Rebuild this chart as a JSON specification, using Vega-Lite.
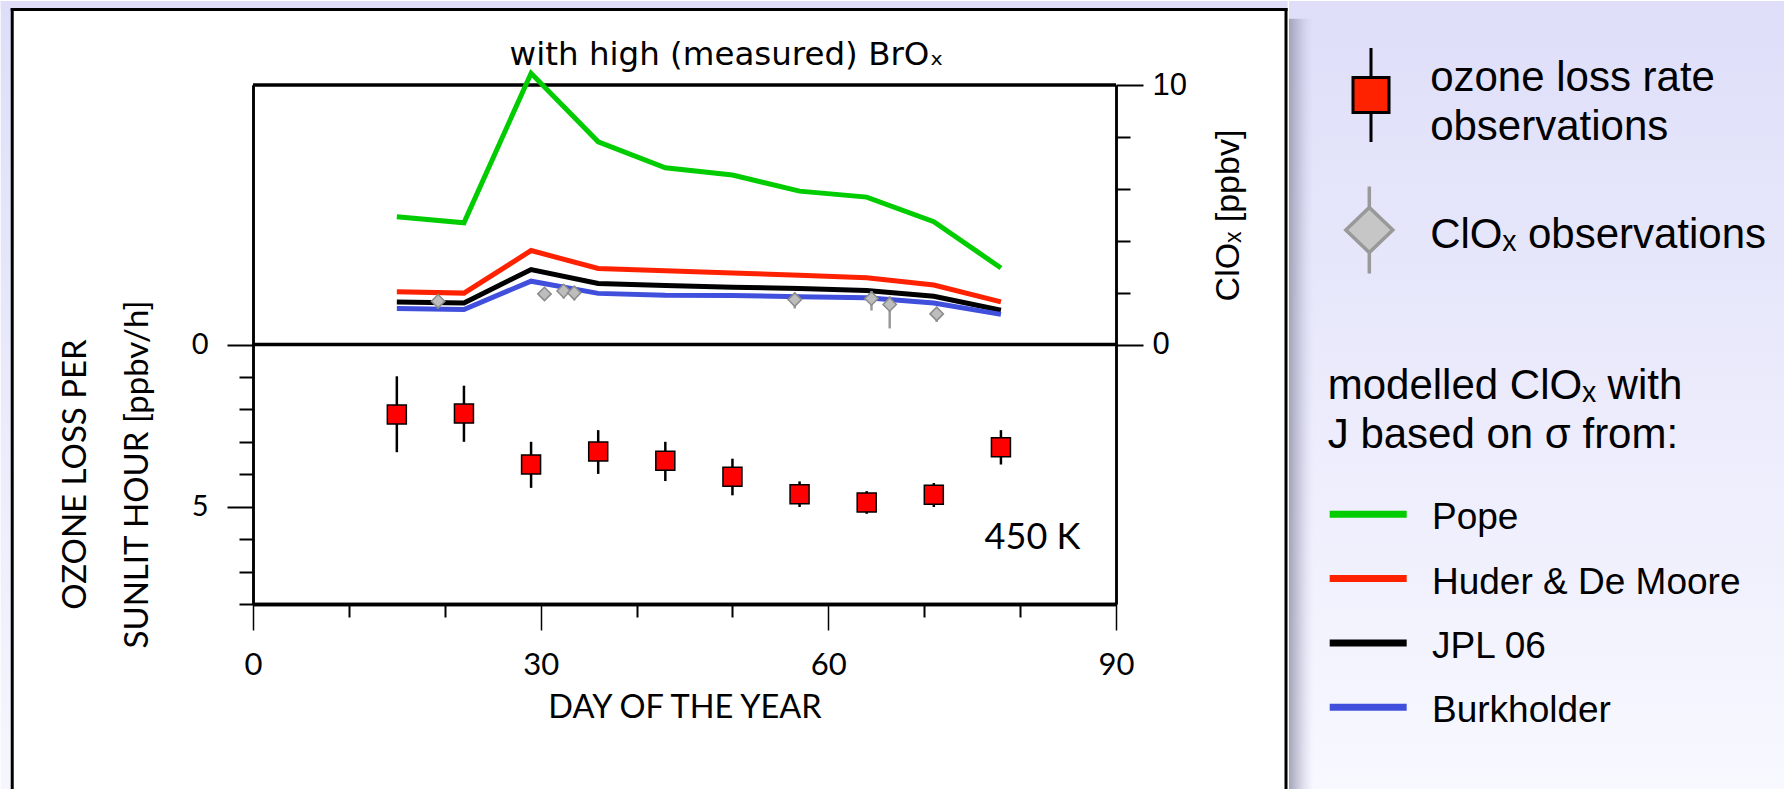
{
  "$schema": "https://vega.github.io/schema/vega-lite/v6.json",
  "background": "white",
  "padding": 0,
  "spacing": 0,
  "config": {
    "view": {"stroke": null},
    "axis": {"grid": false},
    "font": "Liberation Sans"
  },
  "datasets": {
    "models": [
      {"day": 15, "model": "Pope", "clox": 4.92},
      {"day": 22, "model": "Pope", "clox": 4.69},
      {"day": 29, "model": "Pope", "clox": 10.45},
      {"day": 36, "model": "Pope", "clox": 7.81},
      {"day": 43, "model": "Pope", "clox": 6.81},
      {"day": 50, "model": "Pope", "clox": 6.53},
      {"day": 57, "model": "Pope", "clox": 5.91},
      {"day": 64, "model": "Pope", "clox": 5.68},
      {"day": 71, "model": "Pope", "clox": 4.73},
      {"day": 78, "model": "Pope", "clox": 2.95},
      {"day": 15, "model": "Huder & De Moore", "clox": 2.03},
      {"day": 22, "model": "Huder & De Moore", "clox": 1.98},
      {"day": 29, "model": "Huder & De Moore", "clox": 3.62},
      {"day": 36, "model": "Huder & De Moore", "clox": 2.93},
      {"day": 43, "model": "Huder & De Moore", "clox": 2.84},
      {"day": 50, "model": "Huder & De Moore", "clox": 2.76},
      {"day": 57, "model": "Huder & De Moore", "clox": 2.67},
      {"day": 64, "model": "Huder & De Moore", "clox": 2.57},
      {"day": 71, "model": "Huder & De Moore", "clox": 2.29},
      {"day": 78, "model": "Huder & De Moore", "clox": 1.64},
      {"day": 15, "model": "JPL 06", "clox": 1.64},
      {"day": 22, "model": "JPL 06", "clox": 1.6},
      {"day": 29, "model": "JPL 06", "clox": 2.89},
      {"day": 36, "model": "JPL 06", "clox": 2.35},
      {"day": 43, "model": "JPL 06", "clox": 2.27},
      {"day": 50, "model": "JPL 06", "clox": 2.21},
      {"day": 57, "model": "JPL 06", "clox": 2.16},
      {"day": 64, "model": "JPL 06", "clox": 2.08},
      {"day": 71, "model": "JPL 06", "clox": 1.86},
      {"day": 78, "model": "JPL 06", "clox": 1.32},
      {"day": 15, "model": "Burkholder", "clox": 1.39},
      {"day": 22, "model": "Burkholder", "clox": 1.35},
      {"day": 29, "model": "Burkholder", "clox": 2.44},
      {"day": 36, "model": "Burkholder", "clox": 1.97},
      {"day": 43, "model": "Burkholder", "clox": 1.9},
      {"day": 50, "model": "Burkholder", "clox": 1.89},
      {"day": 57, "model": "Burkholder", "clox": 1.84},
      {"day": 64, "model": "Burkholder", "clox": 1.8},
      {"day": 71, "model": "Burkholder", "clox": 1.6},
      {"day": 78, "model": "Burkholder", "clox": 1.16}
    ],
    "clox_obs": [
      {"day": 19.3, "clox": 1.67, "lo": 1.39, "hi": 1.9},
      {"day": 30.4, "clox": 1.95, "lo": 1.8, "hi": 2.1},
      {"day": 32.4, "clox": 2.06, "lo": 1.77, "hi": 2.31},
      {"day": 33.5, "clox": 1.99, "lo": 1.7, "hi": 2.25},
      {"day": 56.5, "clox": 1.73, "lo": 1.39, "hi": 1.99},
      {"day": 64.5, "clox": 1.77, "lo": 1.31, "hi": 2.06},
      {"day": 66.4, "clox": 1.54, "lo": 0.62, "hi": 1.86},
      {"day": 71.3, "clox": 1.18, "lo": 0.87, "hi": 1.41}
    ],
    "ozone": [
      {"day": 15, "loss": 2.16, "lo": 0.98, "hi": 3.32},
      {"day": 22, "loss": 2.13, "lo": 1.27, "hi": 3.0},
      {"day": 29, "loss": 3.7, "lo": 3.0, "hi": 4.42},
      {"day": 36, "loss": 3.3, "lo": 2.64, "hi": 3.99},
      {"day": 43, "loss": 3.58, "lo": 3.0, "hi": 4.21},
      {"day": 50, "loss": 4.08, "lo": 3.52, "hi": 4.65},
      {"day": 57, "loss": 4.62, "lo": 4.22, "hi": 5.01},
      {"day": 64, "loss": 4.87, "lo": 4.52, "hi": 5.22},
      {"day": 71, "loss": 4.63, "lo": 4.27, "hi": 5.01},
      {"day": 78, "loss": 3.17, "lo": 2.64, "hi": 3.7}
    ],
    "legend": [
      {"entry": "ozone loss rate\nobservations", "kind": "obs", "order": 1},
      {"entry": "ClOₓ observations", "kind": "clox", "order": 2},
      {"entry": "modelled ClOₓ with\nJ based on σ from:", "kind": "header", "order": 3},
      {"entry": "Pope", "kind": "model", "order": 4},
      {"entry": "Huder & De Moore", "kind": "model", "order": 5},
      {"entry": "JPL 06", "kind": "model", "order": 6},
      {"entry": "Burkholder", "kind": "model", "order": 7}
    ]
  },
  "hconcat": [
    {
      "width": 863,
      "height": 519,
      "resolve": {
        "scale": {"x": "independent", "y": "independent"},
        "axis": {"x": "independent", "y": "independent"}
      },
      "layer": [
        {
          "resolve": {"axis": {"y": "independent"}},
          "layer": [
            {
              "data": {"values": [{}]},
              "mark": {"type": "rect", "fill": "#DEDEF9"},
              "encoding": {
                "x": {"datum": -26.31, "type": "quantitative", "axis": null},
                "x2": {"datum": 107.905},
                "y": {"datum": 13.237, "type": "quantitative", "axis": null},
                "y2": {"datum": 12.909}
              }
            },
            {
              "data": {"values": [{}]},
              "mark": {
                "type": "rect",
                "fill": {
                  "gradient": "linear", "x1": 0, "y1": 0, "x2": 0, "y2": 1,
                  "stops": [{"offset": 0, "color": "#DEDEF9"}, {"offset": 1, "color": "#F6F6FE"}]
                }
              },
              "encoding": {
                "x": {"datum": -26.31, "type": "quantitative", "axis": null},
                "x2": {"datum": -25.11},
                "y": {"datum": 13.237, "type": "quantitative", "axis": null},
                "y2": {"datum": -17.15}
              }
            },
            {
              "data": {"values": [{}]},
              "mark": {"type": "rule", "color": "black", "strokeWidth": 3, "strokeCap": "square"},
              "encoding": {
                "x": {"datum": -25.11, "type": "quantitative", "axis": null},
                "y": {"datum": 12.909, "type": "quantitative", "axis": null},
                "y2": {"datum": -17.11}
              }
            },
            {
              "data": {"values": [{}]},
              "mark": {"type": "rule", "color": "black", "strokeWidth": 3, "strokeCap": "square"},
              "encoding": {
                "x": {"datum": -25.11, "type": "quantitative", "axis": null},
                "x2": {"datum": 107.73},
                "y": {"datum": 12.909, "type": "quantitative", "axis": null}
              }
            },
            {
              "data": {"values": [{}]},
              "mark": {"type": "rule", "color": "black", "strokeWidth": 3, "strokeCap": "square"},
              "encoding": {
                "x": {"datum": 107.73, "type": "quantitative", "axis": null},
                "y": {"datum": 12.909, "type": "quantitative", "axis": null},
                "y2": {"datum": -17.11}
              }
            },
            {
              "data": {"values": [{}]},
              "mark": {"type": "rule", "color": "black", "strokeWidth": 3.5},
              "encoding": {"y": {"datum": 10, "type": "quantitative", "axis": null}}
            },
            {
              "data": {"values": [{}]},
              "mark": {"type": "rule", "color": "black", "strokeWidth": 3.5},
              "encoding": {"y": {"datum": 0, "type": "quantitative", "axis": null}}
            },
            {
              "data": {"name": "models"},
              "mark": {"type": "line", "strokeWidth": 5},
              "encoding": {
                "x": {
                  "field": "day", "type": "quantitative",
                  "scale": {"domain": [0, 90], "nice": false, "zero": false},
                  "axis": null
                },
                "y": {
                  "field": "clox", "type": "quantitative",
                  "scale": {"domain": [-10, 10], "nice": false, "zero": false},
                  "axis": {
                    "orient": "right",
                    "values": [0, 10],
                    "tickSize": 27, "tickWidth": 2, "tickColor": "black",
                    "domainColor": "black", "domainWidth": 2.5,
                    "labelFont": "Liberation Sans", "labelFontSize": 31, "labelColor": "black",
                    "labelPadding": 9, "labelFlush": false, "labelOverlap": false,
                    "title": "ClOₓ [ppbv]", "titleFont": "Liberation Sans", "titleFontSize": 34,
                    "titleFontWeight": "normal", "titleColor": "black",
                    "titleAngle": 270, "titleBaseline": "top", "titleAlign": "center",
                    "titleY": 130, "titlePadding": 25,
                    "zindex": 1
                  }
                },
                "color": {
                  "field": "model", "type": "nominal",
                  "scale": {
                    "domain": ["Pope", "Huder & De Moore", "JPL 06", "Burkholder"],
                    "range": ["#00CC00", "#FF2200", "#000000", "#4050DD"]
                  },
                  "legend": null
                }
              }
            },
            {
              "data": {"name": "clox_obs"},
              "mark": {"type": "rule", "color": "#999999", "strokeWidth": 2.5},
              "encoding": {
                "x": {"field": "day", "type": "quantitative", "axis": null},
                "y": {
                  "field": "lo", "type": "quantitative",
                  "axis": {
                    "orient": "right",
                    "values": [2, 4, 6, 8],
                    "labels": false,
                    "tickSize": 14, "tickWidth": 2, "tickColor": "black",
                    "domainColor": "black", "domainWidth": 2.5,
                    "title": null,
                    "zindex": 1
                  }
                },
                "y2": {"field": "hi"}
              }
            },
            {
              "data": {"name": "clox_obs"},
              "mark": {"type": "point", "shape": "diamond", "filled": true, "size": 180, "fill": "#BDBDBD", "stroke": "#8C8C8C", "strokeWidth": 1.5, "opacity": 1},
              "encoding": {
                "x": {"field": "day", "type": "quantitative", "axis": null},
                "y": {"field": "clox", "type": "quantitative", "axis": null}
              }
            },
            {
              "data": {"values": [{}]},
              "mark": {"type": "text", "font": "DejaVu Sans", "fontSize": 32.5, "align": "center", "baseline": "alphabetic", "color": "black"},
              "encoding": {
                "x": {"datum": 49.4, "type": "quantitative", "axis": null},
                "y": {"datum": 10.76, "type": "quantitative", "axis": null},
                "text": {"value": "with high (measured) BrOₓ"}
              }
            }
          ]
        },
        {
          "resolve": {"axis": {"x": "independent", "y": "independent"}},
          "layer": [
            {
              "data": {"name": "ozone"},
              "mark": {"type": "rule", "color": "black", "strokeWidth": 2.5},
              "encoding": {
                "x": {
                  "field": "day", "type": "quantitative",
                  "scale": {"domain": [0, 90], "nice": false, "zero": false},
                  "axis": {
                    "orient": "bottom",
                    "values": [0, 30, 60, 90],
                    "tickSize": 26, "tickWidth": 1.5, "tickColor": "black",
                    "domainColor": "black", "domainWidth": 3.5,
                    "labelFont": "Lato", "labelFontSize": 31, "labelColor": "black",
                    "labelPadding": 20, "labelFlush": false, "labelOverlap": false,
                    "title": "DAY OF THE YEAR", "titleFont": "Lato", "titleFontSize": 32.5,
                    "titleFontWeight": "normal", "titleColor": "black", "titlePadding": 11,
                    "zindex": 1
                  }
                },
                "y": {
                  "field": "lo", "type": "quantitative",
                  "scale": {"domain": [-8, 8], "reverse": true, "nice": false, "zero": false},
                  "axis": {
                    "orient": "left",
                    "values": [0, 5],
                    "tickSize": 26, "tickWidth": 2, "tickColor": "black",
                    "domainColor": "black", "domainWidth": 2.5,
                    "labelFont": "Lato", "labelFontSize": 29, "labelColor": "black",
                    "labelPadding": 19, "labelFlush": false, "labelOverlap": false,
                    "title": ["OZONE LOSS PER", "SUNLIT HOUR [ppbv/h]"],
                    "titleFont": "Lato", "titleFontSize": 33, "titleFontWeight": "normal",
                    "titleColor": "black", "titleLineHeight": 62,
                    "titleAngle": 270, "titleBaseline": "bottom", "titleAlign": "center",
                    "titleY": 389, "titlePadding": 37,
                    "zindex": 1
                  }
                },
                "y2": {"field": "hi"}
              }
            },
            {
              "data": {"name": "ozone"},
              "mark": {"type": "point", "shape": "square", "filled": true, "size": 361, "fill": "#FF0000", "stroke": "black", "strokeWidth": 1.5, "opacity": 1},
              "encoding": {
                "x": {
                  "field": "day", "type": "quantitative",
                  "axis": {
                    "orient": "bottom",
                    "values": [10, 20, 40, 50, 70, 80],
                    "labels": false,
                    "tickSize": 13, "tickWidth": 2, "tickColor": "black",
                    "domainColor": "black", "domainWidth": 3.5,
                    "title": null,
                    "zindex": 1
                  }
                },
                "y": {
                  "field": "loss", "type": "quantitative",
                  "axis": {
                    "orient": "left",
                    "values": [1, 2, 3, 4, 6, 7, 8],
                    "labels": false,
                    "tickSize": 14, "tickWidth": 2, "tickColor": "black",
                    "domainColor": "black", "domainWidth": 2.5,
                    "title": null,
                    "zindex": 1
                  }
                }
              }
            },
            {
              "data": {"values": [{}]},
              "mark": {"type": "text", "font": "Lato", "fontSize": 36, "align": "center", "baseline": "middle", "color": "black"},
              "encoding": {
                "x": {"datum": 81.29, "type": "quantitative", "axis": null},
                "y": {"datum": 5.965, "type": "quantitative", "axis": null},
                "text": {"value": "450 K"}
              }
            }
          ]
        }
      ]
    },
    {
      "width": 497,
      "height": 519,
      "data": {"name": "legend"},
      "layer": [
        {
          "data": {"values": [{}]},
          "mark": {
            "type": "rect",
            "fill": {
              "gradient": "linear", "x1": 0, "y1": 0, "x2": 0, "y2": 1,
              "stops": [{"offset": 0, "color": "#DEDEF9"}, {"offset": 1, "color": "#F8F8FF"}]
            }
          },
          "encoding": {
            "x": {"datum": 0, "type": "quantitative", "scale": {"domain": [0, 100], "range": [0, 497], "nice": false, "zero": false}, "axis": null},
            "x2": {"datum": 100},
            "y": {
              "datum": 0, "type": "quantitative",
              "scale": {"domain": [0, 1, 2, 3, 4, 5, 6, 7, 8], "range": [-84, -7, 150, 301, 433.3, 497.6, 561.9, 626.2, 705], "nice": false, "zero": false},
              "axis": null
            },
            "y2": {"datum": 8}
          }
        },
        {
          "data": {"values": [{}]},
          "mark": {
            "type": "rect",
            "fill": {
              "gradient": "linear", "x1": 0, "y1": 0, "x2": 1, "y2": 0,
              "stops": [
                {"offset": 0, "color": "rgba(150,150,172,0.85)"},
                {"offset": 0.4, "color": "rgba(170,170,195,0.55)"},
                {"offset": 1, "color": "rgba(210,210,240,0)"}
              ]
            }
          },
          "encoding": {
            "x": {"datum": 0, "type": "quantitative", "axis": null},
            "x2": {"datum": 5.0},
            "y": {"datum": 0.23, "type": "quantitative", "axis": null},
            "y2": {"datum": 8}
          }
        },
        {
          "transform": [{"filter": "datum.kind === 'obs'"}],
          "mark": {
            "type": "point", "filled": true, "opacity": 1,
            "shape": "M-0.383,-0.372H0.383V0.372H-0.383ZM0,-1V-0.372M0,0.372V1",
            "size": 8836, "fill": "#FF2200", "stroke": "black", "strokeWidth": 3, "yOffset": 17
          },
          "encoding": {
            "x": {"datum": 16.5, "type": "quantitative", "axis": null},
            "y": {"field": "order", "type": "quantitative", "axis": null}
          }
        },
        {
          "transform": [{"filter": "datum.kind === 'clox'"}],
          "mark": {
            "type": "point", "filled": true, "opacity": 1,
            "shape": "M-0.54,0L0,-0.517L0.54,0L0,0.517ZM0,-1V-0.517M0,0.517V1",
            "size": 7569, "fill": "#C6C6C6", "stroke": "#999999", "strokeWidth": 3.5, "yOffset": -5
          },
          "encoding": {
            "x": {"datum": 16.16, "type": "quantitative", "axis": null},
            "y": {"field": "order", "type": "quantitative", "axis": null}
          }
        },
        {
          "transform": [{"filter": "datum.kind === 'model'"}],
          "mark": {"type": "rule", "strokeWidth": 7, "yOffset": -4},
          "encoding": {
            "x": {"datum": 8.19, "type": "quantitative", "axis": null},
            "x2": {"datum": 23.68},
            "y": {"field": "order", "type": "quantitative", "axis": null},
            "color": {
              "field": "entry", "type": "nominal",
              "scale": {
                "domain": ["Pope", "Huder & De Moore", "JPL 06", "Burkholder"],
                "range": ["#00CC00", "#FF2200", "#000000", "#4050DD"]
              },
              "legend": null
            }
          }
        },
        {
          "transform": [{"filter": "datum.kind === 'obs' || datum.kind === 'clox'"}],
          "mark": {"type": "text", "font": "Liberation Sans", "fontSize": 42, "align": "left", "baseline": "middle", "color": "black", "lineBreak": "\n", "lineHeight": 48.8},
          "encoding": {
            "x": {"datum": 28.4, "type": "quantitative", "axis": null},
            "y": {"field": "order", "type": "quantitative", "axis": null},
            "text": {"field": "entry"}
          }
        },
        {
          "transform": [{"filter": "datum.kind === 'header'"}],
          "mark": {"type": "text", "font": "Liberation Sans", "fontSize": 42, "align": "left", "baseline": "middle", "color": "black", "lineBreak": "\n", "lineHeight": 49.4},
          "encoding": {
            "x": {"datum": 7.79, "type": "quantitative", "axis": null},
            "y": {"field": "order", "type": "quantitative", "axis": null},
            "text": {"field": "entry"}
          }
        },
        {
          "transform": [{"filter": "datum.kind === 'model'"}],
          "mark": {"type": "text", "font": "Liberation Sans", "fontSize": 37, "align": "left", "baseline": "middle", "color": "black"},
          "encoding": {
            "x": {"datum": 28.77, "type": "quantitative", "axis": null},
            "y": {"field": "order", "type": "quantitative", "axis": null},
            "text": {"field": "entry"}
          }
        }
      ]
    }
  ]
}
